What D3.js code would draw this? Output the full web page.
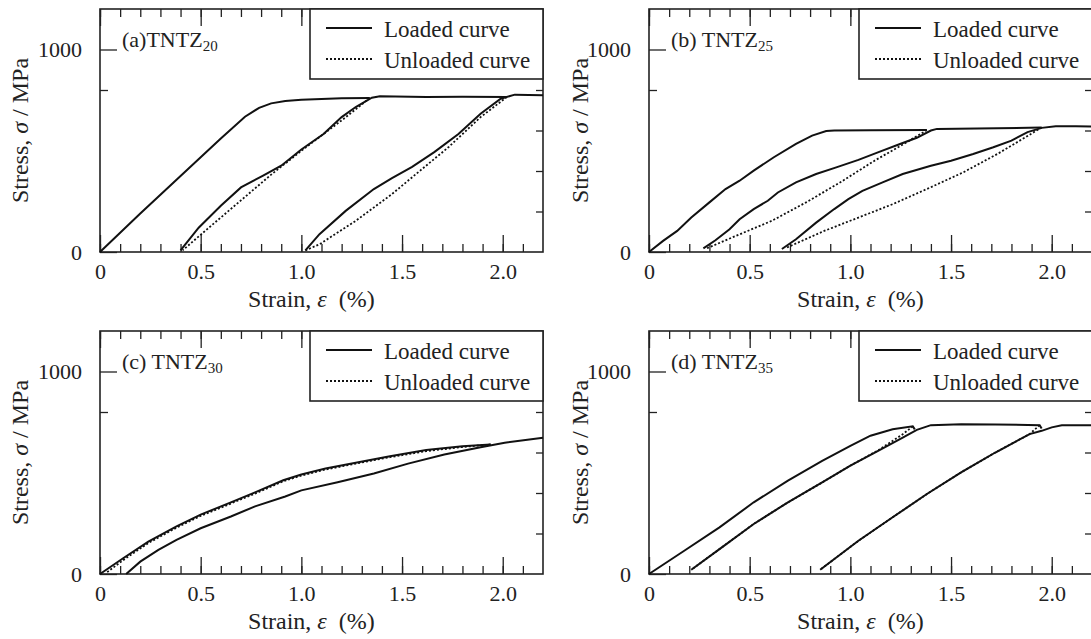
<!DOCTYPE html>
<html lang="en">
<head>
<meta charset="UTF-8">
<script src="https://d3js.org/d3.v7.min.js"></script>
<title>TNTZ loading / unloading</title>
<style>
  body { margin: 0; background: #fff; }
  text { font-family: 'Liberation Serif', 'Times New Roman', serif; fill: #222; font-size: 22px; }
  text.big { font-size: 24px; }
  text.legend { font-size: 23px; }
  .tick line { stroke: #222; stroke-width: 1.3; }
  .frame { fill: none; stroke: #222; stroke-width: 1.6; }
  .legend-box { fill: #fff; stroke: #222; stroke-width: 1.6; }
  .solid { fill: none; stroke: #111; stroke-width: 2; }
  .dotted { fill: none; stroke: #111; stroke-width: 1.8; stroke-dasharray: 2,2; }
</style>
</head>
<body>
<svg width="1091" height="639"></svg>
<script>
    // axes
    const xMajor = [0, 0.5, 1.0, 1.5, 2.0];
    const xMajorLabels = ["0", "0.5", "1.0", "1.5", "2.0"];
    const xMinor = d3.range(0, 22).map(i => i / 10);
    const yLabelled = [0, 1000];
    const yLeftMinor = [800];
    const yRightTicks = [200, 400, 600, 800];

    // panel (a) TNTZ20   [strain %, stress MPa]
    const aLoad1 = [[0,0],[0.2,190],[0.4,375],[0.6,560],[0.72,668],[0.79,712],[0.85,734],[0.92,746],[1.0,752],[1.2,759],[1.34,760]];
    const aUnload1 = [[1.34,760],[1.2,650],[1.0,500],[0.85,382],[0.7,255],[0.55,128],[0.41,8]];
    const aLoad2 = [[0.40,8],[0.49,120],[0.60,228],[0.70,319],[0.81,377],[0.90,426],[1.0,506],[1.11,583],[1.20,666],[1.27,716],[1.35,762],[1.39,769],[1.62,765],[1.80,767],[2.02,765]];
    const aUnload2 = [[2.02,765],[1.89,666],[1.73,517],[1.59,402],[1.45,286],[1.27,154],[1.09,38],[1.02,8]];
    const aLoad3 = [[1.02,8],[1.09,88],[1.22,203],[1.36,311],[1.45,365],[1.55,420],[1.66,493],[1.78,583],[1.89,683],[1.99,757],[2.06,777],[2.2,774]];

    // panel (b) TNTZ25
    const bLoad1 = [[0,0],[0.07,55],[0.14,104],[0.21,170],[0.30,245],[0.38,311],[0.45,352],[0.52,402],[0.62,468],[0.73,534],[0.81,575],[0.88,597],[0.92,600],[1.1,601],[1.38,602]];
    const bUnload1 = [[1.38,602],[1.28,542],[1.12,451],[0.95,344],[0.78,245],[0.61,154],[0.43,79],[0.28,15]];
    const bLoad2 = [[0.27,18],[0.33,58],[0.40,112],[0.45,162],[0.52,212],[0.59,253],[0.64,294],[0.73,344],[0.83,385],[0.93,418],[1.04,455],[1.14,493],[1.24,531],[1.33,564],[1.40,600],[1.43,608],[1.73,611],[1.95,615]];
    const bUnload2 = [[1.95,615],[1.87,567],[1.73,484],[1.56,393],[1.38,311],[1.21,236],[1.04,170],[0.87,104],[0.68,20]];
    const bLoad3 = [[0.66,15],[0.73,63],[0.83,145],[0.92,212],[0.99,261],[1.06,302],[1.16,344],[1.26,385],[1.40,426],[1.50,451],[1.61,484],[1.71,517],[1.80,550],[1.88,592],[1.95,613],[2.02,621],[2.12,621],[2.2,620]];

    // panel (c) TNTZ30
    const cLoad1 = [[0,0],[0.115,78],[0.24,160],[0.38,235],[0.50,293],[0.65,354],[0.77,403],[0.91,463],[1.0,491],[1.12,521],[1.27,549],[1.44,582],[1.62,612],[1.80,631],[1.94,640]];
    const cUnload1 = [[1.94,640],[1.80,627],[1.62,607],[1.44,577],[1.27,545],[1.12,516],[1.0,486],[0.91,458],[0.77,397],[0.65,348],[0.50,287],[0.38,229],[0.24,153],[0.12,72],[0.03,5]];
    const cLoad2 = [[0.13,0],[0.20,61],[0.29,119],[0.38,169],[0.50,226],[0.65,284],[0.77,334],[0.92,383],[1.0,413],[1.18,453],[1.36,496],[1.53,545],[1.71,590],[1.89,626],[2.01,648],[2.2,673]];

    // panel (d) TNTZ35
    const dLoad1 = [[0,0],[0.175,115],[0.35,230],[0.52,354],[0.69,461],[0.86,559],[1.0,633],[1.10,683],[1.21,715],[1.31,729],[1.32,714]];
    const dUnload1 = [[1.31,729],[1.26,690],[1.14,612],[1.0,535],[0.86,452],[0.69,354],[0.52,247],[0.35,123],[0.21,21]];
    const dLoad2 = [[0.21,21],[0.35,123],[0.52,247],[0.69,354],[0.86,452],[1.0,535],[1.14,609],[1.26,674],[1.33,712],[1.40,735],[1.55,740],[1.72,738],[1.94,735],[1.95,718]];
    const dUnload2 = [[1.94,735],[1.89,691],[1.72,600],[1.55,502],[1.38,395],[1.21,280],[1.04,164],[0.85,21]];
    const dLoad3 = [[0.85,21],[1.04,164],[1.21,280],[1.38,395],[1.55,502],[1.72,600],[1.89,691],[1.95,707],[2.0,724],[2.05,735],[2.2,735]];

    const panels = [
        {tag: "(a)TNTZ", sub: "20", ox: 100, oy: 252, titleDx: 80, loaded: [aLoad1, aLoad2, aLoad3], unloaded: [aUnload1, aUnload2]},
        {tag: "(b) TNTZ", sub: "25", ox: 649, oy: 252, titleDx: 69, loaded: [bLoad1, bLoad2, bLoad3], unloaded: [bUnload1, bUnload2]},
        {tag: "(c) TNTZ", sub: "30", ox: 100, oy: 574, titleDx: 80, loaded: [cLoad1, cLoad2], unloaded: [cUnload1]},
        {tag: "(d) TNTZ", sub: "35", ox: 649, oy: 574, titleDx: 69, loaded: [dLoad1, dLoad2, dLoad3], unloaded: [dUnload1, dUnload2]}
    ];

    const svg = d3.select("svg");
    const W = 443, H = 243;

    panels.forEach(drawPanel);

    function drawPanel(p) {
        const x = d3.scaleLinear().domain([0, 2.2]).range([p.ox, p.ox + W]);
        const y = d3.scaleLinear().domain([0, 1200]).range([p.oy, p.oy - H]);
        const g = svg.append("g");
        const top = p.oy - H;

        // bottom ticks (inward)
        g.append("g").attr("transform", `translate(0,${p.oy})`)
            .call(d3.axisBottom(x).tickValues(xMinor).tickSize(-8).tickFormat(""));
        g.append("g").attr("transform", `translate(0,${p.oy})`)
            .call(d3.axisBottom(x).tickValues(xMajor).tickSize(-17).tickPadding(11)
                .tickFormat((d, i) => xMajorLabels[i]));
        // top ticks, left of legend only
        g.append("g").attr("transform", `translate(0,${top})`)
            .call(d3.axisTop(x).tickValues(xMinor.filter(v => v <= 1.0)).tickSize(-8).tickFormat(""));
        g.append("g").attr("transform", `translate(0,${top})`)
            .call(d3.axisTop(x).tickValues(xMajor.filter(v => v <= 1.0)).tickSize(-17).tickFormat(""));
        // left and right ticks
        g.append("g").attr("transform", `translate(${p.ox},0)`)
            .call(d3.axisLeft(y).tickValues(yLabelled).tickSize(-17).tickPadding(18).tickFormat(d3.format("d")));
        g.append("g").attr("transform", `translate(${p.ox},0)`)
            .call(d3.axisLeft(y).tickValues(yLeftMinor).tickSize(-8).tickFormat(""));
        g.append("g").attr("transform", `translate(${p.ox + W},0)`)
            .call(d3.axisRight(y).tickValues(yRightTicks).tickSize(-7).tickFormat(""));
        g.selectAll(".domain").remove();
        g.selectAll(".tick text").attr("font-size", 22).attr("font-family", "'Liberation Serif', serif").attr("fill", "#222");

        g.append("rect").attr("class", "frame")
            .attr("x", p.ox).attr("y", top).attr("width", W).attr("height", H);

        const line = d3.line().x(d => x(d[0])).y(d => y(d[1]));
        g.selectAll("path.dotted").data(p.unloaded).enter().append("path")
            .attr("class", "dotted").attr("d", line);
        g.selectAll("path.solid").data(p.loaded).enter().append("path")
            .attr("class", "solid").attr("d", line);

        // legend
        const lx = p.ox + 210;
        g.append("rect").attr("class", "legend-box")
            .attr("x", lx).attr("y", top).attr("width", W - 210).attr("height", 70);
        g.append("line").attr("class", "solid")
            .attr("x1", lx + 16).attr("x2", lx + 62).attr("y1", top + 19).attr("y2", top + 19);
        g.append("line").attr("class", "dotted")
            .attr("x1", lx + 16).attr("x2", lx + 62).attr("y1", top + 50).attr("y2", top + 50);
        g.append("text").attr("class", "legend").attr("x", lx + 74).attr("y", top + 28).text("Loaded curve");
        g.append("text").attr("class", "legend").attr("x", lx + 74).attr("y", top + 59).text("Unloaded curve");

        // panel tag
        const t = g.append("text").attr("x", p.ox + 22).attr("y", top + 38);
        t.append("tspan").text(p.tag);
        t.append("tspan").attr("dy", 4).attr("font-size", 15).text(p.sub);

        // axis titles
        const xt = g.append("text").attr("class", "big").attr("x", x(1.05)).attr("y", p.oy + 55)
            .attr("text-anchor", "middle").style("white-space", "pre");
        xt.append("tspan").text("Strain, ");
        xt.append("tspan").attr("font-style", "italic").text("ε");
        xt.append("tspan").text("  (%)");

        const yt = g.append("text").attr("class", "big")
            .attr("transform", `translate(${p.ox - p.titleDx},${(p.oy + top) / 2}) rotate(-90)`)
            .attr("text-anchor", "middle").attr("dominant-baseline", "central");
        yt.append("tspan").text("Stress, ");
        yt.append("tspan").attr("font-style", "italic").text("σ");
        yt.append("tspan").text(" / MPa");
    }
</script>
</body>
</html>
